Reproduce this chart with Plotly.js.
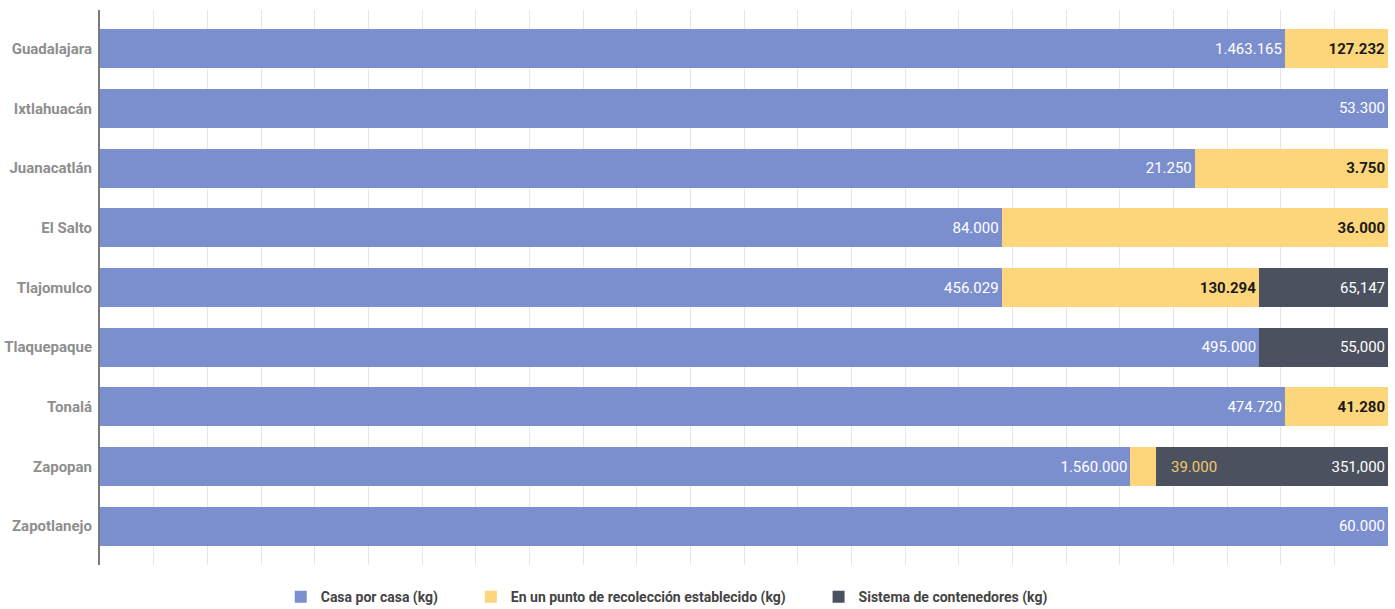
<!DOCTYPE html>
<html>
<head>
<meta charset="utf-8">
<script src="https://cdn.plot.ly/plotly-3.0.1.min.js"></script>
<style>html,body{margin:0;padding:0;background:#fff;}#chart{width:1395px;height:609px;}</style>
</head>
<body>
<div id="chart"></div>
<script>
const municipios = ["Guadalajara","Ixtlahuacán","Juanacatlán","El Salto","Tlajomulco","Tlaquepaque","Tonalá","Zapopan","Zapotlanejo"];
const casaPorCasa = [1463165, 53300, 21250, 84000, 456029, 495000, 474720, 1560000, 60000];
const puntoRecoleccion = [127232, 0, 3750, 36000, 130294, 0, 41280, 39000, 0];
const contenedores = [0, 0, 0, 0, 65147, 55000, 0, 351000, 0];
const seriesNames = ["Casa por casa (kg)", "En un punto de recolección establecido (kg)", "Sistema de contenedores (kg)"];

function fmt(v, sep) {
  if (!v) return "";
  return String(v).replace(/\B(?=(\d{3})+(?!\d))/g, sep);
}
// extra trailing room between legend entries
const legendPad = "\u00a0".repeat(8);

// segment too narrow to hold its label: label is drawn just after it
const narrowIdx = municipios.indexOf("Zapopan");

const yellowText = puntoRecoleccion.map((v, i) => i === narrowIdx ? "" : fmt(v, "."));

const common = {
  type: "bar", orientation: "h", y: municipios,
  textposition: "inside", insidetextanchor: "end", constraintext: "none",
  hoverinfo: "x+y+name"
};

const traces = [
  Object.assign({}, common, {
    name: seriesNames[0] + legendPad, x: casaPorCasa, text: casaPorCasa.map(v => fmt(v, ".")),
    marker: {color: "#7b8fcf", line: {width: 0}},
    insidetextfont: {color: "#ffffff", size: 15, family: "Roboto"}
  }),
  Object.assign({}, common, {
    name: seriesNames[1] + legendPad, x: puntoRecoleccion.map(v => v || null), text: yellowText,
    marker: {color: "#fdd67c", line: {width: 0}},
    insidetextfont: {color: "#1a1a1a", size: 15, family: "Roboto", weight: "bold"}
  }),
  Object.assign({}, common, {
    name: seriesNames[2], x: contenedores.map(v => v || null), text: contenedores.map(v => fmt(v, ",")),
    marker: {color: "#4b515e", line: {width: 0}},
    insidetextfont: {color: "#ffffff", size: 15, family: "Roboto"}
  })
];

const tot = casaPorCasa[narrowIdx] + puntoRecoleccion[narrowIdx] + contenedores[narrowIdx];
const annX = (casaPorCasa[narrowIdx] + puntoRecoleccion[narrowIdx]) / tot * 100;

const layout = {
  width: 1395, height: 609,
  margin: {l: 100, r: 7, t: 10, b: 44, autoexpand: false},
  paper_bgcolor: "#ffffff", plot_bgcolor: "#ffffff",
  barmode: "stack", barnorm: "percent", bargap: 0.35,
  font: {family: "Roboto", color: "#444"},
  xaxis: {
    range: [0, 100], dtick: 100 / 24, tick0: 0,
    showticklabels: false, ticks: "",
    showgrid: true, gridcolor: "#e6e6e6", gridwidth: 1,
    zeroline: false, showline: false, fixedrange: true
  },
  yaxis: {
    type: "category", range: [8.65, -0.65],
    showgrid: false, zeroline: false,
    showline: true, linecolor: "#7a7a7a", linewidth: 2,
    ticks: "", ticklabelstandoff: 3,
    tickfont: {family: "Roboto", size: 15, color: "#8e8e8e", weight: "bold"},
    fixedrange: true
  },
  showlegend: true,
  legend: {
    orientation: "h", x: 0.44, xanchor: "center", y: -0.058, yanchor: "middle",
    font: {family: "Roboto", size: 14, color: "#444", weight: "bold"},
    traceorder: "normal", itemclick: false, itemwidth: 30
  },
  annotations: [{
    x: annX, y: municipios[narrowIdx], xref: "x", yref: "y",
    text: fmt(puntoRecoleccion[narrowIdx], "."), showarrow: false,
    xanchor: "left", xshift: 13,
    font: {family: "Roboto", size: 15, color: "#f2c96b"}
  }]
};

Plotly.newPlot("chart", traces, layout, {displayModeBar: false, staticPlot: true});
</script>
</body>
</html>
